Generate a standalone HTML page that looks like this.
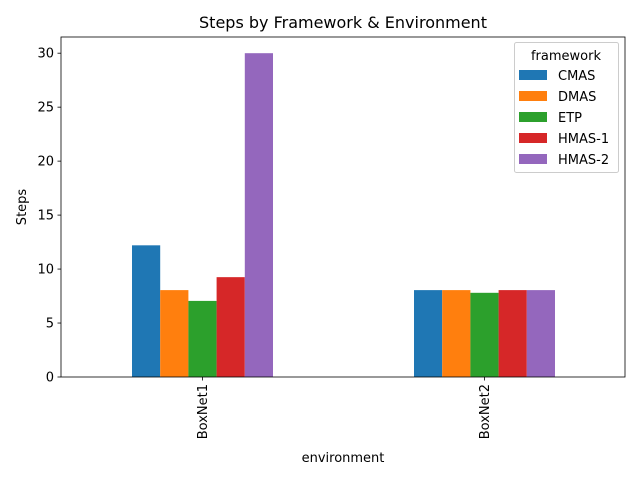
<!DOCTYPE html>
<html><head><meta charset="utf-8"><style>
body{margin:0;background:#fff;font-family:"Liberation Sans","DejaVu Sans",sans-serif}
svg text{font-family:"DejaVu Sans","Liberation Sans",sans-serif}
</style></head><body>
<svg id="chart" width="640" height="480" style="position:absolute;left:0;top:0"></svg>
<script>
const categories=["BoxNet1","BoxNet2"];
const seriesNames=["CMAS","DMAS","ETP","HMAS-1","HMAS-2"];
const cmas=[12.2,8.05];
const dmas=[8.05,8.05];
const etp=[7.05,7.8];
const hmas1=[9.25,8.05];
const hmas2=[30,8.05];
const yTicks=[0,5,10,15,20,25,30];
const series=[cmas,dmas,etp,hmas1,hmas2];
const colors=["#1f77b4","#ff7f0e","#2ca02c","#d62728","#9467bd"];
const L=61,R=625,T=37,B=377;
const NS="http://www.w3.org/2000/svg";
const svg=document.getElementById('chart');
function el(t,a,p){const e=document.createElementNS(NS,t);for(const k in a)e.setAttribute(k,a[k]);(p||svg).appendChild(e);return e;}
const yMax=31.5;
const y=v=>B-(v/yMax)*(B-T);
const x=v=>L+(v+0.5)/2*(R-L);
const bw=0.1;
series.forEach((s,si)=>{s.forEach((v,ci)=>{
 const x0=x(ci-0.25+si*bw)+0.5;
 const r=el('rect',{x:x0,y:y(v),width:x(ci-0.25+(si+1)*bw)+0.5-x0,height:B-y(v),fill:colors[si]});
 
 
});});
yTicks.forEach(t=>{
 const l=el('line',{x1:L-3.5,x2:L,y1:y(t),y2:y(t),stroke:'#000','stroke-width':0.8});
 
 
 const tx=el('text',{x:L-7,y:y(t)+4.5,'text-anchor':'end','font-size':13});
 tx.textContent=t;
 
 
});
categories.forEach((c,i)=>{
 const l=el('line',{x1:x(i)+0.5,x2:x(i)+0.5,y1:B,y2:B+3.5,stroke:'#000','stroke-width':0.8});
 
 
 const tx=el('text',{x:0,y:0,'text-anchor':'end','font-size':13,transform:`translate(${x(i)+5},${B+7}) rotate(-90)`});
 tx.textContent=c;
 
 
});
const fr=el('rect',{x:L,y:T,width:R-L,height:B-T,fill:'none',stroke:'#000','stroke-width':0.8});


</script>
<svg width="640" height="480" style="position:absolute;left:0;top:0">
<text x="343" y="28" text-anchor="middle" font-size="16">Steps by Framework &amp; Environment</text>
<text x="343" y="462" text-anchor="middle" font-size="13">environment</text>
<text transform="translate(26,207) rotate(-90)" text-anchor="middle" font-size="13">Steps</text>
<g>
<rect x="514.5" y="42.5" width="104" height="130" rx="2" fill="#fff" fill-opacity="0.8" stroke="#ccc"/>
<text x="566" y="60" text-anchor="middle" font-size="13">framework</text>
<rect x="519" y="70" width="28" height="10" fill="#1f77b4"/><text x="558" y="80" font-size="13">CMAS</text>
<rect x="519" y="91" width="28" height="10" fill="#ff7f0e"/><text x="558" y="101" font-size="13">DMAS</text>
<rect x="519" y="112" width="28" height="10" fill="#2ca02c"/><text x="558" y="122" font-size="13">ETP</text>
<rect x="519" y="133" width="28" height="10" fill="#d62728"/><text x="558" y="143" font-size="13">HMAS-1</text>
<rect x="519" y="154" width="28" height="10" fill="#9467bd"/><text x="558" y="164" font-size="13">HMAS-2</text>
</g>
</svg>
</body></html>
